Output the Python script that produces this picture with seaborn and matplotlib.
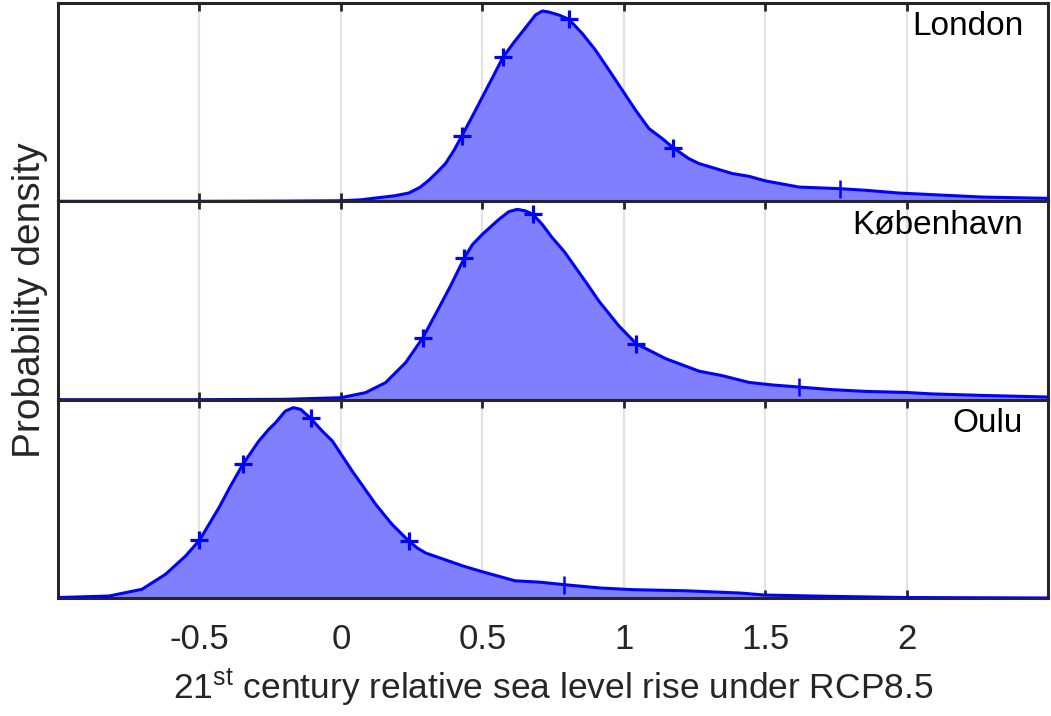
import numpy as np
import pandas as pd
import seaborn as sns
import matplotlib
matplotlib.use("Agg")
import matplotlib.pyplot as plt

# Probability density of 21st-century relative sea level rise (m), RCP8.5
cities = ["London", "København", "Oulu"]

london_x = [-1.0, -0.5, -0.2, 0.0, 0.07, 0.134, 0.19, 0.24, 0.28, 0.311, 0.34,
            0.37, 0.40, 0.427, 0.465, 0.5, 0.537, 0.573, 0.61, 0.641, 0.665,
            0.688, 0.712, 0.735, 0.771, 0.806, 0.853, 0.9, 0.948, 0.995, 1.042,
            1.089, 1.136, 1.174, 1.23, 1.266, 1.384, 1.443, 1.502, 1.619,
            1.763, 1.855, 1.973, 2.09, 2.268, 2.5]
london_d = [0.0, 0.0, 0.002, 0.005, 0.013, 0.032, 0.048, 0.072, 0.122, 0.183,
            0.252, 0.328, 0.443, 0.565, 0.739, 0.904, 1.078, 1.25, 1.374, 1.47,
            1.545, 1.617, 1.652, 1.643, 1.617, 1.58, 1.458, 1.313, 1.139, 0.965,
            0.791, 0.632, 0.545, 0.467, 0.371, 0.328, 0.241, 0.217, 0.177,
            0.124, 0.11, 0.096, 0.072, 0.058, 0.037, 0.026]

kbh_x = [-1.0, -0.5, -0.2, 0.0, 0.087, 0.158, 0.229, 0.29, 0.347, 0.39, 0.437,
         0.465, 0.5, 0.53, 0.559, 0.594, 0.624, 0.653, 0.679, 0.712, 0.747,
         0.79, 0.83, 0.87, 0.912, 0.983, 1.044, 1.148, 1.266, 1.348, 1.443,
         1.525, 1.619, 1.737, 1.855, 1.997, 2.09, 2.268, 2.5]
kbh_d = [0.0, 0.0, 0.003, 0.017, 0.061, 0.148, 0.322, 0.539, 0.8, 1.0, 1.235,
         1.348, 1.437, 1.504, 1.568, 1.635, 1.655, 1.641, 1.611, 1.524, 1.409,
         1.287, 1.148, 1.009, 0.858, 0.641, 0.487, 0.357, 0.248, 0.209, 0.15,
         0.128, 0.11, 0.087, 0.072, 0.063, 0.05, 0.037, 0.023]

oulu_x = [-1.0, -0.82, -0.703, -0.62, -0.549, -0.5, -0.431, -0.39, -0.345,
          -0.29, -0.255, -0.231, -0.196, -0.168, -0.142, -0.107, -0.066, -0.03,
          0.04, 0.08, 0.123, 0.18, 0.24, 0.27, 0.3, 0.435, 0.495, 0.615, 0.706,
          0.789, 0.917, 1.037, 1.218, 1.413, 1.496, 1.714, 2.0, 2.5]
oulu_d = [0.004, 0.017, 0.076, 0.206, 0.365, 0.502, 0.785, 0.974, 1.168,
          1.365, 1.466, 1.524, 1.626, 1.655, 1.64, 1.563, 1.452, 1.365, 1.104,
          0.965, 0.815, 0.643, 0.496, 0.435, 0.391, 0.276, 0.232, 0.15, 0.137,
          0.116, 0.087, 0.072, 0.063, 0.043, 0.026, 0.015, 0.004, 0.0]

# Quantile markers: the first four drawn as '+', the last one as '|'
london_q = [0.427, 0.573, 0.806, 1.174, 1.763]
kbh_q = [0.29, 0.437, 0.679, 1.044, 1.619]
oulu_q = [-0.5, -0.345, -0.107, 0.24, 0.789]

xticks = [-0.5, 0, 0.5, 1, 1.5, 2]
xtick_labels = ["-0.5", "0", "0.5", "1", "1.5", "2"]

sns.set_theme(style="white")
plt.rcParams["font.family"] = ["Liberation Sans", "DejaVu Sans"]
plt.rcParams["mathtext.fontset"] = "custom"
plt.rcParams["mathtext.rm"] = "Liberation Sans"
plt.rcParams["mathtext.it"] = "Liberation Sans:italic"

frame = "#262626"
line_blue = "#0000ff"
fill_blue = "#8080ff"

fig, axes = plt.subplots(3, 1, figsize=(10.51, 7.16), dpi=100, sharex=True)
fig.subplots_adjust(left=58 / 1051, right=1048 / 1051, top=1 - 3 / 716,
                    bottom=1 - 598 / 716, hspace=0)

panels = [(london_x, london_d, london_q), (kbh_x, kbh_d, kbh_q),
          (oulu_x, oulu_d, oulu_q)]

for ax, name, (xs, ds, qs) in zip(axes, cities, panels):
    df = pd.DataFrame({"x": xs, "d": ds})
    for xt in xticks:
        ax.axvline(xt, color="#e3e3e3", lw=1.6, zorder=0)
    ax.fill_between(df["x"], df["d"], 0, color=fill_blue, lw=0, zorder=1)
    sns.lineplot(data=df, x="x", y="d", ax=ax, color=line_blue, lw=2.2,
                 sort=False, estimator=None, zorder=3)
    qy = np.interp(qs, xs, ds)
    sns.scatterplot(x=qs[:4], y=qy[:4], ax=ax, marker="+", s=150,
                    linewidth=2.3, color=line_blue, zorder=4)
    sns.scatterplot(x=qs[4:], y=qy[4:], ax=ax, marker="|", s=150,
                    linewidth=1.8, color=line_blue, zorder=4)

    ax.set_xlim(-1, 2.5)
    ax.set_ylim(0, max(ds) * 1.042)
    ax.set_yticks([])
    ax.set_ylabel("")
    ax.set_xlabel("")
    ax.set_xticks(xticks)
    ax.set_xticklabels(xtick_labels)
    ax.tick_params(axis="x", direction="in", top=True, bottom=True,
                   length=6, width=2.0, color=frame, labelsize=25,
                   labelcolor=frame, pad=18)
    for sp in ax.spines.values():
        sp.set_visible(True)
        sp.set_color(frame)
        sp.set_linewidth(2.2)
    ax.text(0.975, 0.96, name, transform=ax.transAxes, ha="right", va="top",
            fontsize=24, color="black")

axes[1].set_ylabel("Probability density", fontsize=28, color=frame,
                   labelpad=7)
axes[2].set_xlabel(r"21$^{\mathrm{st}}$ century relative sea level rise under RCP8.5",
                   fontsize=25.5, color=frame, labelpad=8)

fig.savefig("out.png", dpi=100)
